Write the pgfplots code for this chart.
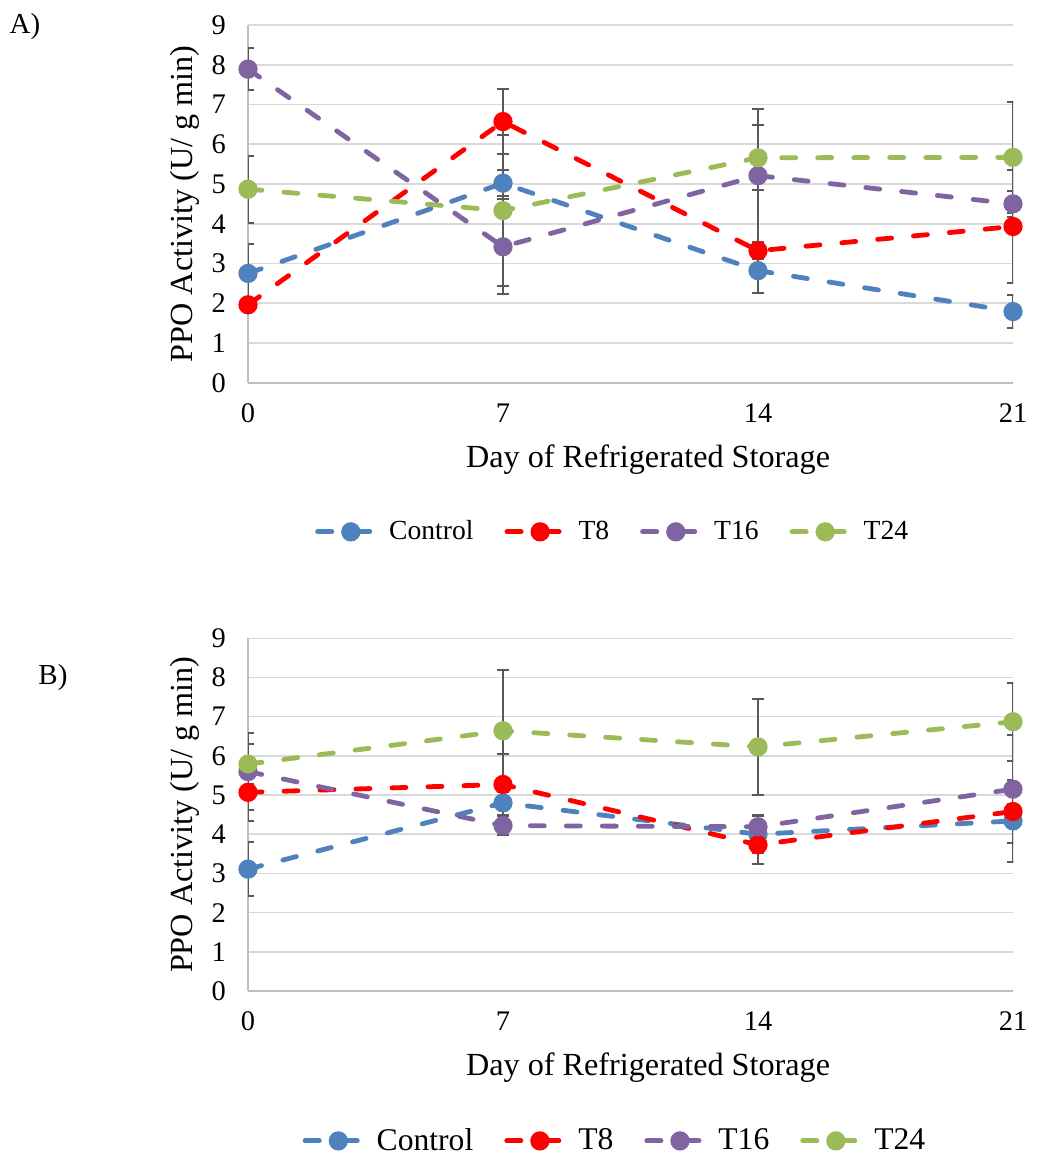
\documentclass[border=0pt]{standalone}
\usepackage{pgfplots}
\pgfplotsset{compat=1.18}
\usepackage{fontspec}
\setmainfont{Liberation Serif}
\definecolor{cblue}{HTML}{4F81BD}
\definecolor{cred}{HTML}{FF0000}
\definecolor{cpurple}{HTML}{8064A2}
\definecolor{cgreen}{HTML}{9BBB59}
\definecolor{errgray}{HTML}{595959}
\definecolor{gridgray}{HTML}{D9D9D9}
\definecolor{axgray}{HTML}{BFBFBF}

\pgfplotsset{
  ppo/.style={
    scale only axis,
    width=382.5pt,
    xmin=0, xmax=21, ymin=0, ymax=9,
    xtick={0,7,14,21}, ytick={0,1,...,9},
    axis x line*=bottom, axis y line*=left,
    axis line style={axgray, line width=1pt, -},
    major tick length=0pt,
    ymajorgrids, grid style={gridgray, line width=0.8pt},
    /pgf/number format/assume math mode=true,
    tick label style={font=\fontsize{14.2}{16}\selectfont},
    yticklabel style={xshift=-7.5pt},
    xticklabel style={yshift=-7pt},
    xlabel={Day of Refrigerated Storage},
    ylabel={PPO Activity (U/ g min)},
    label style={font=\fontsize{16.1}{19}\selectfont},
    ylabel style={at={(axis description cs:-0.0824,0.5)}, anchor=center, rotate=0},
    legend columns=4,
    legend cell align=left,
    legend image code/.code={
      \draw[#1,solid,mark=none,line cap=round] (1.2pt,0pt) -- (8.3pt,0pt);
      \draw[#1,solid,mark=none,line cap=round] (17.8pt,0pt) -- (27.3pt,0pt);
      \draw[#1,solid] plot coordinates {(17.8pt,0pt)};
    },
    every axis plot/.append style={line width=2.4pt, dash pattern=on 7pt off 11pt, line cap=round,
      mark=*, mark size=3.6pt,
      error bars/y dir=both, error bars/y explicit,
      error bars/error bar style={line width=1pt, color=errgray, solid},
      error bars/error mark options={rotate=90, mark size=3pt, line width=1pt, color=errgray, solid}},
  },
  cs/.style={color=#1, mark options={solid, fill=#1, draw=#1}},
}

\begin{document}
\begin{tikzpicture}
\useasboundingbox (0,0) rectangle (520pt,579pt);
\node[font=\fontsize{14.5}{17}\selectfont] at (12.5pt,565.5pt) {A)};
\node[font=\fontsize{14.5}{17}\selectfont] at (26.5pt,240pt) {B)};

\begin{axis}[ppo, at={(124pt,387.65pt)}, anchor=south west, height=178.85pt,
  xlabel style={at={(axis description cs:0.523,-0.216)}, anchor=center},
  legend style={at={(0.478,-0.417)}, anchor=center, draw=none, font=\fontsize{13.8}{16}\selectfont,
    /tikz/every odd column/.append style={column sep=6.5pt},
    /tikz/every even column/.append style={column sep=13.5pt}}]
\addplot[cs=cblue] table[x=x,y=y,y error=e] {
x y e
0 2.75 0.73
7 5.02 0.33
14 2.82 0.56
21 1.79 0.42
};
\addlegendentry{Control}
\addplot[cs=cred] table[x=x,y=y,y error=e] {
x y e
0 1.96 0.08
7 6.57 0.82
14 3.32 0.20
21 3.93 1.41
};
\addlegendentry{T8}
\addplot[cs=cpurple] table[x=x,y=y,y error=e] {
x y e
0 7.89 0.53
7 3.42 1.20
14 5.21 1.67
21 4.50 0.32
};
\addlegendentry{T16}
\addplot[cs=cgreen] table[x=x,y=y,y error=e] {
x y e
0 4.87 0.84
7 4.33 1.90
14 5.66 0.82
21 5.67 1.40
};
\addlegendentry{T24}
\end{axis}

\begin{axis}[ppo, at={(124pt,83.5pt)}, anchor=south west, height=176.35pt,
  xlabel style={at={(axis description cs:0.523,-0.218)}, anchor=center},
  legend style={at={(0.481,-0.425)}, anchor=center, draw=none, font=\fontsize{15.8}{18}\selectfont,
    /tikz/every odd column/.append style={column sep=6.5pt},
    /tikz/every even column/.append style={column sep=13.5pt}}]
\addplot[cs=cblue] table[x=x,y=y,y error=e] {
x y e
0 3.11 0.69
7 4.80 0.30
14 4.00 0.48
21 4.34 1.04
};
\addlegendentry{Control}
\addplot[cs=cred] table[x=x,y=y,y error=e] {
x y e
0 5.07 0.73
7 5.27 0.77
14 3.73 0.49
21 4.58 0.20
};
\addlegendentry{T8}
\addplot[cs=cpurple] table[x=x,y=y,y error=e] {
x y e
0 5.60 0.98
7 4.22 0.24
14 4.19 0.28
21 5.15 1.38
};
\addlegendentry{T16}
\addplot[cs=cgreen] table[x=x,y=y,y error=e] {
x y e
0 5.79 0.51
7 6.64 1.55
14 6.23 1.22
21 6.87 1.00
};
\addlegendentry{T24}
\end{axis}
\end{tikzpicture}
\end{document}
